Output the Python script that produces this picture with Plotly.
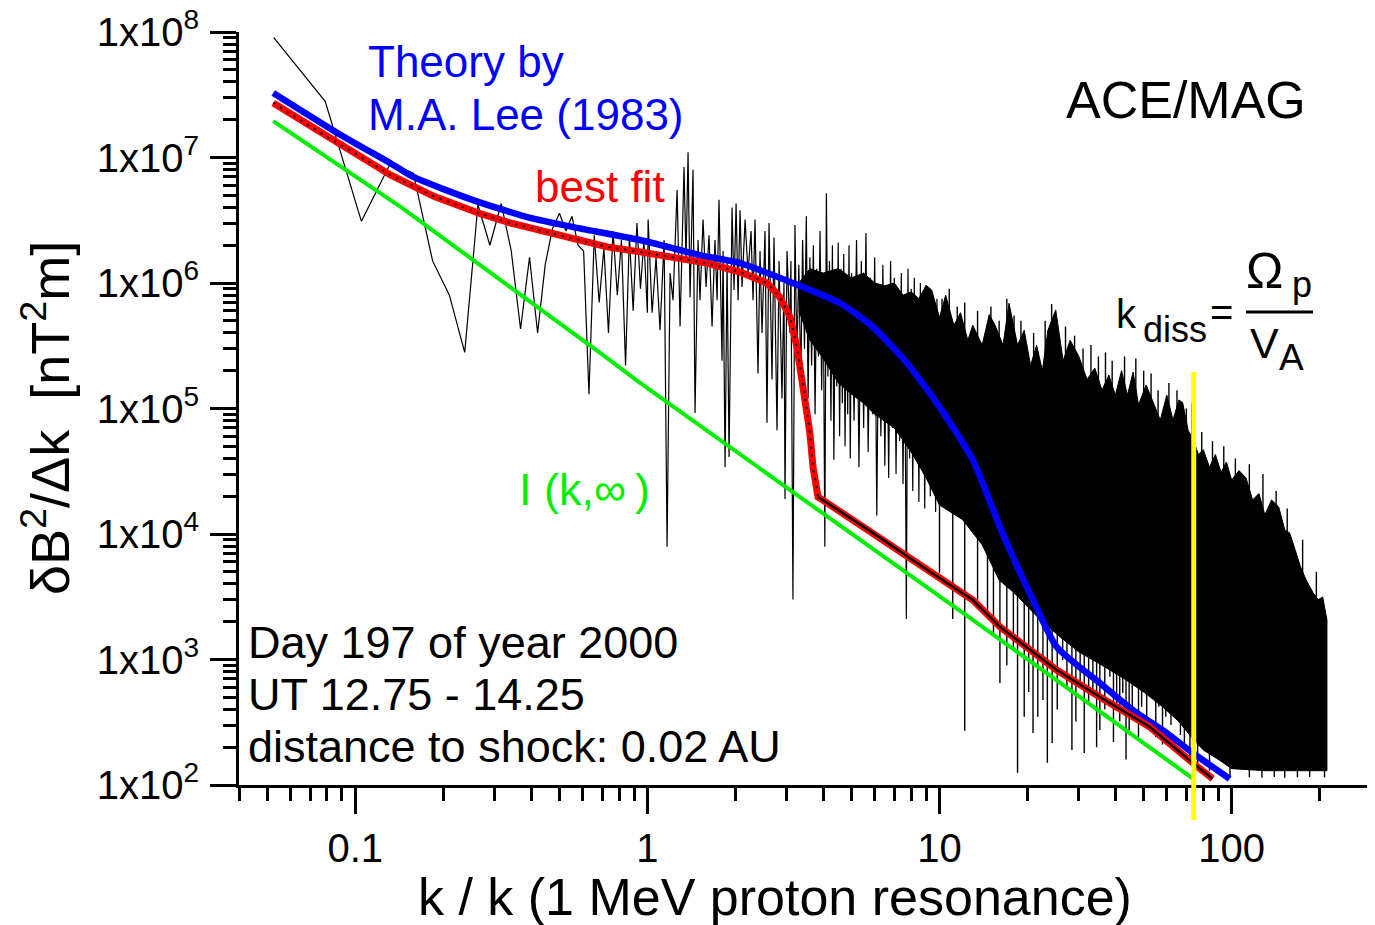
import math
import plotly.graph_objects as go

# ---------------- data ----------------
# measured spectrum, individual low-k points
spec_k_low = [0.0526, 0.0789, 0.105, 0.132, 0.158, 0.184, 0.210, 0.237, 0.263, 0.289,
              0.316, 0.342, 0.368, 0.395, 0.421, 0.447, 0.473, 0.500, 0.526, 0.552,
              0.579, 0.605, 0.631, 0.658, 0.684, 0.710, 0.736, 0.763, 0.789, 0.815,
              0.842, 0.868, 0.894, 0.921, 0.947, 0.973, 1.000]
spec_v_low = [9.0e7, 2.8e7, 3.1e6, 9.0e6, 7.5e6, 1.5e6, 8.0e5, 2.8e5, 4.2e6, 2.0e6,
              4.3e6, 1.8e6, 4.3e5, 1.6e6, 4.0e5, 1.4e6, 2.7e6, 3.6e6, 2.6e6, 3.4e6,
              2.0e6, 1.8e6, 1.3e5, 2.4e6, 7.0e5, 1.9e6, 4.0e5, 2.6e6, 8.0e5, 2.2e6,
              2.2e5, 2.4e6, 6.0e5, 3.0e6, 9.0e5, 2.2e6, 5.8e5]
# measured spectrum, 1 < k < 3 (peaks and troughs)
spec_k_mid = [1.006, 1.038, 1.071, 1.105, 1.141, 1.168, 1.196, 1.224, 1.264, 1.294,
              1.335, 1.356, 1.378, 1.400, 1.433, 1.456, 1.491, 1.514, 1.551, 1.588,
              1.626, 1.665, 1.704, 1.732, 1.759, 1.801, 1.816, 1.845, 1.874, 1.904,
              1.949, 1.980, 2.012, 2.044, 2.076, 2.109, 2.160, 2.211, 2.264, 2.300,
              2.336, 2.392, 2.430, 2.469, 2.528, 2.567, 2.609, 2.671, 2.713, 2.778,
              2.823, 2.889, 2.935, 2.959, 3.006, 3.077]
spec_v_mid = [3.2e6, 5.8e5, 1.6e6, 4.2e5, 2.2e6, 7.9e3, 1.2e6, 7.3e5, 5.5e6, 4.5e5,
              8.4e6, 1.5e6, 1.1e7, 7.7e5, 8.0e6, 9.2e4, 2.2e6, 7.3e5, 3.2e6, 9.3e5,
              2.4e6, 4.5e5, 2.2e6, 7.3e5, 4.6e6, 2.4e5, 1.8e6, 3.4e4, 1.5e6, 4.1e4,
              4.0e6, 8.8e5, 4.3e6, 7.3e5, 3.8e6, 9.3e5, 3.2e6, 1.2e6, 2.6e6, 7.3e5,
              3.2e6, 1.9e5, 1.8e6, 4.0e5, 2.6e6, 7.7e4, 3.0e6, 1.7e5, 2.3e6, 6.7e4,
              1.5e6, 1.2e5, 1.0e6, 1.9e4, 1.8e6, 4.0e5]
# measured spectrum, 3 < k < 10 (peaks and troughs)
spec_k_hi = [3.10, 3.15, 3.20, 3.25, 3.30, 3.35, 3.40, 3.45, 3.50, 3.55,
             3.60, 3.65, 3.70, 3.75, 3.80, 3.85, 3.90, 3.95, 4.00, 4.05,
             4.10, 4.15, 4.20, 4.25, 4.30, 4.35, 4.40, 4.45, 4.50, 4.55,
             4.60, 4.65, 4.70, 4.75, 4.80, 4.85, 4.90, 4.95, 5.00, 5.1,
             5.2, 5.3, 5.4, 5.5, 5.6, 5.7, 5.8, 5.9, 6.0, 6.1,
             6.2, 6.3, 6.4, 6.5, 6.6, 6.7, 6.8, 6.9, 7.0, 7.1,
             7.2, 7.3, 7.4, 7.5, 7.6, 7.7, 7.8, 7.9, 8.0, 8.1,
             8.2, 8.3, 8.4, 8.5, 8.6, 8.7, 8.8, 8.9, 9.0, 9.1,
             9.2, 9.3, 9.4, 9.5, 9.6, 9.7, 9.8, 9.9, 10.0]
spec_v_hi = [1.5e6, 3.0e3, 2.9e6, 2.5e5, 1.4e6, 1.6e5, 2.2e6, 3.0e5, 3.4e6, 1.2e5,
             1.6e6, 2.2e5, 2.0e6, 9.0e4, 1.3e6, 2.6e5, 2.6e6, 1.4e5, 1.2e6, 7.9e3,
             5.2e6, 1.8e5, 1.5e6, 8.0e4, 2.0e6, 3.9e4, 1.1e6, 1.5e5, 2.1e6, 6.0e4,
             1.3e6, 1.1e5, 1.7e6, 5.0e4, 1.0e6, 9.0e4, 2.0e6, 4.0e4, 1.2e6, 8.0e4,
             2.2e6, 3.4e4, 1.5e6, 7.0e4, 2.5e6, 4.5e4, 1.1e6, 9.0e4, 1.6e6, 1.4e4,
             9.0e5, 6.0e4, 1.4e6, 3.5e4, 8.0e5, 2.8e4, 1.5e6, 7.0e4, 1.1e6, 3.0e4,
             9.0e5, 5.5e4, 1.2e6, 2.5e4, 7.0e5, 2.1e3, 1.3e6, 4.0e4, 9.0e5, 2.2e4,
             1.1e6, 4.5e4, 7.0e5, 1.8e4, 1.0e6, 3.5e4, 6.5e5, 1.6e4, 9.5e5, 3.0e4,
             7.5e5, 2.0e4, 8.5e5, 4.0e4, 6.0e5, 1.5e4, 7.5e5, 2.5e4, 5.3e5]
# dense part of the spectrum (k > 3.3): upper edge and lower edge of the solid core
band_k_top = [3.3, 3.6, 4.0, 4.5, 5.0, 5.5, 6.0, 6.5, 7.0, 7.5, 8.0, 8.5,
              9.0, 9.4, 10.0, 10.5, 11.2, 11.8, 12.5,
              13.0, 14.0, 14.8, 15.5, 16.5, 17.3, 18.5, 19.5, 20.5, 21.5,
              22.5, 23.5, 25.0, 26.5, 28.0, 30.0, 32, 34, 36, 38,
              40, 42, 44, 46, 48, 51, 54, 57, 60, 63,
              66, 68, 71, 74, 77, 80, 84, 88, 92, 96,
              100, 106, 112, 118, 124, 130, 137, 145, 152, 158,
              165, 172, 180, 190, 198, 205, 212]
band_v_top = [1.0e6, 1.3e6, 1.2e6, 1.3e6, 1.1e6, 1.2e6, 1.0e6, 9.5e5, 1.0e6, 8.0e5, 8.5e5, 7.5e5,
              9.6e5, 8.8e5, 5.3e5, 8.0e5, 4.6e5, 5.8e5, 3.5e5,
              4.6e5, 3.2e5, 5.6e5, 4.6e5, 3.2e5, 6.9e5, 3.2e5, 4.2e5, 2.2e5, 3.2e5,
              2.0e5, 4.2e5, 6.1e5, 2.4e5, 3.5e5, 2.6e5, 1.7e5, 2.1e5, 1.4e5, 1.85e5,
              1.28e5, 2.0e5, 1.28e5, 1.95e5, 1.07e5, 1.54e5, 1.11e5, 8.1e4, 1.28e5, 8.1e4,
              1.17e5, 1.11e5, 6.7e4, 5.6e4, 4.3e4, 4.7e4, 3.4e4, 4.3e4, 3.1e4, 3.75e4,
              2.7e4, 3.2e4, 2.8e4, 1.87e4, 2.1e4, 1.42e4, 1.87e4, 1.64e4, 1.08e4, 1.02e4,
              7.5e3, 5.5e3, 4.3e3, 3.4e3, 3.0e3, 3.15e3, 2.07e3]
band_k_bot = [3.3, 3.6, 4.0, 4.5, 5.0, 5.5, 6.0, 7.0, 8.0, 9.0, 10, 12, 14, 16, 18, 22,
              26, 30, 36, 43, 50, 58, 66, 74, 80, 90, 100, 130, 170, 212]
band_v_bot = [6.0e5, 3.5e5, 2.5e5, 1.6e5, 1.3e5, 1.1e5, 9.0e4, 7.0e4, 4.5e4, 2.8e4,
              1.7e4, 1.3e4, 8.2e3, 4.3e3, 3.4e3, 2.1e3, 1.5e3, 1.15e3, 9.0e2,
              7.0e2, 5.5e2, 4.2e2, 3.2e2, 2.3e2, 1.9e2, 1.6e2, 1.35e2, 1.3e2, 1.3e2, 1.3e2]
# deep minima reaching below the solid core
spike_k = [10.0, 11.1, 12.2, 13.5, 14.6, 15.3, 16.1, 17.0, 17.9, 18.5,
           19.5, 20.2, 20.9, 21.7, 22.6, 23.4, 24.3, 25.3, 26.4, 27.3,
           28.4, 29.3, 30.3, 31.3, 32.4, 33.5, 34.5, 35.4, 36.8, 38.3,
           39.4, 40.4, 41.4, 42.4, 43.5, 44.6, 45.7, 46.9, 48.0, 49.2,
           51.2, 53.3, 55.0, 56.3, 58.0, 59.5, 62.0, 64.6, 66.8, 68.9,
           72.0, 76.5, 79.7, 84.0, 90.9, 98.7, 115, 127, 140, 152,
           168, 185, 208]
spike_top = [3e4, 2.5e4, 2e4, 1.5e4, 1.2e4, 1.0e4, 8e3, 7e3, 6e3, 6e3,
             5e3, 5e3, 4e3, 4e3, 4e3, 4e3, 3.5e3, 3.5e3, 3e3, 3e3,
             3e3, 3e3, 2.5e3, 2.5e3, 2.5e3, 2.2e3, 2.2e3, 2e3, 2e3, 2e3,
             2e3, 1.8e3, 1.8e3, 1.6e3, 1.6e3, 1.5e3, 1.5e3, 1.4e3, 1.4e3, 1.3e3,
             1.3e3, 1.2e3, 1.2e3, 1.1e3, 1.1e3, 1.0e3, 1.0e3, 9e2, 9e2, 8e2,
             7e2, 6e2, 5e2, 4e2, 3e2, 2.5e2, 2e2, 2e2, 2e2, 2e2,
             2e2, 2e2, 2e2]
spike_bot = [4.9e3, 2.1e3, 2.7e2, 3.0e3, 2.35e3, 1.6e3, 6.5e2, 9.0e2, 1.19e3, 1.25e2,
             3.5e2, 5.5e2, 2.6e2, 3.5e2, 4.75e2, 1.5e2, 2.16e2, 4.0e2, 9.9e2, 6.0e2,
             1.9e2, 3.2e2, 6.5e2, 1.8e2, 4.5e2, 5.4e2, 2.0e2, 2.74e2, 4.0e2, 7.3e2,
             2.2e2, 4.2e2, 3.2e2, 5.4e2, 1.6e2, 2.74e2, 3.6e2, 6.5e2, 2.3e2, 4.2e2,
             2.9e2, 7.3e2, 2.4e2, 4.2e2, 2.1e2, 3.5e2, 3.0e2, 4.75e2, 2.5e2, 1.9e2,
             1.6e2, 1.5e2, 2.74e2, 1.3e2, 2.0e2, 1.14e2, 1.15e2, 1.14e2, 1.16e2, 1.14e2,
             1.15e2, 1.16e2, 1.15e2]
# isolated maxima sticking out above the solid core
hair_k = [10.2, 10.8, 11.5, 12.2, 13.5, 15.0, 16.0, 17.0, 18.0, 19.0,
          21.0, 23.0, 24.2, 27.0, 29.0, 31.0, 33.0, 35.0, 37.0, 39.0,
          43.0, 47.0, 50.0, 53.0, 56.0, 61.0, 65.0, 70.0, 73.0, 79.0,
          86.0, 94.0, 103, 115, 128, 142, 155, 175, 195]
hair_tip = [7.5e5, 9.0e5, 6.5e5, 7.0e5, 6.0e5, 6.5e5, 5.0e5, 7.5e5, 5.5e5, 5.0e5,
            4.0e5, 5.0e5, 6.8e5, 4.5e5, 3.8e5, 3.0e5, 3.2e5, 2.6e5, 2.8e5, 2.4e5,
            2.6e5, 2.5e5, 2.0e5, 1.9e5, 1.4e5, 1.6e5, 1.4e5, 1.0e5, 1.1e5, 6.5e4,
            5.5e4, 5.0e4, 4.0e4, 3.6e4, 3.0e4, 2.2e4, 1.6e4, 9.0e3, 5.0e3]
hair_base = [2e5, 2e5, 2e5, 1.5e5, 1.2e5, 1.2e5, 1e5, 1e5, 8e4, 8e4,
             6e4, 6e4, 6e4, 5e4, 5e4, 4e4, 4e4, 3e4, 3e4, 3e4,
             2e4, 2e4, 2e4, 2e4, 2e4, 1.5e4, 1.5e4, 1.5e4, 1.5e4, 1e4,
             1e4, 8e3, 6e3, 6e3, 5e3, 4e3, 3e3, 2e3, 1.5e3]

# theory by M.A. Lee (1983)
theory_k = [0.0524, 0.0889, 0.132, 0.158, 0.253, 0.397, 0.557, 0.944, 1.51, 2.08,
            3.08, 4.56, 5.92, 7.73, 10.0, 13.0, 16.1, 17.4, 20.9, 25.2,
            35.4, 45.9, 60.0, 73.6, 98.5]
theory_v = [3.27e7, 1.52e7, 9.0e6, 7.0e6, 4.58e6, 3.30e6, 2.79e6, 2.20e6, 1.67e6, 1.44e6,
            1.02e6, 6.93e5, 4.46e5, 2.31e5, 1.03e5, 3.89e4, 1.14e4, 7.46e3, 2.98e3, 1.26e3,
            6.5e2, 3.96e2, 2.59e2, 1.80e2, 1.12e2]
# best fit
fit_k = [0.0524, 0.0802, 0.106, 0.132, 0.185, 0.264, 0.339, 0.465, 0.728, 0.944,
         1.60, 2.08, 2.57, 2.84, 3.08, 3.25, 3.41, 3.60, 3.69, 3.84,
         4.12, 5.92, 8.77, 13.0, 16.1, 25.2, 35.4, 52.5, 73.6, 86.1]
fit_v = [2.72e7, 1.46e7, 9.9e6, 7.26e6, 4.93e6, 3.61e6, 3.01e6, 2.50e6, 1.94e6, 1.77e6,
         1.44e6, 1.22e6, 1.0e6, 7.73e5, 5.36e5, 3.09e5, 1.60e5, 6.38e4, 3.42e4, 1.97e4,
         1.77e4, 1.02e4, 5.46e3, 2.98e3, 1.82e3, 8.24e2, 5.02e2, 2.90e2, 1.50e2, 1.12e2]
fit_knee = 19  # index where the dotted centre line becomes solid
# I(k, infinity)
ikinf_k = [0.0524, 0.143, 0.689, 0.944, 3.33, 5.78, 13.0, 73.9]
ikinf_v = [1.95e7, 4.04e6, 2.77e5, 1.60e5, 1.97e4, 7.9e3, 2.07e3, 1.12e2]

k_diss = 74.2

x_tickvals = [0.1, 1, 10, 100]
x_ticktext = ["0.1", "1", "10", "100"]
y_tickvals = [1e2, 1e3, 1e4, 1e5, 1e6, 1e7, 1e8]
y_ticktext = ["1x10<sup>%d</sup>" % e for e in range(2, 9)]

# ---------------- figure ----------------
OFF = 8                      # page margin of the html body
W, H = 1375 - OFF, 925 - OFF
ML, MR, MT, MB = 239 - OFF, 4, 32 - OFF, 140
PW, PH = W - ML - MR, H - MT - MB
FONT = "Liberation Sans, Arial, sans-serif"


def px(xp):
    return (xp - OFF - ML) / PW


def py(yp):
    return (H - MB - (yp - OFF)) / PH


def segments(ks, a, b):
    xs, ys = [], []
    for k, t, u in zip(ks, a, b):
        xs += [k, k, None]
        ys += [t, u, None]
    return xs, ys


fig = go.Figure()

band_x = band_k_top + band_k_bot[::-1]
band_y = band_v_top + band_v_bot[::-1]
fig.add_trace(go.Scatter(x=band_x, y=band_y, mode="lines", fill="toself",
                         fillcolor="black", line=dict(color="black", width=1),
                         showlegend=False))

spec_k = spec_k_low + spec_k_mid + spec_k_hi
spec_v = spec_v_low + spec_v_mid + spec_v_hi
fig.add_trace(go.Scatter(x=spec_k, y=spec_v, mode="lines",
                         line=dict(color="black", width=1.2), showlegend=False))

sx, sy = segments(spike_k, spike_top, spike_bot)
fig.add_trace(go.Scatter(x=sx, y=sy, mode="lines",
                         line=dict(color="black", width=1.4), showlegend=False))
hx, hy = segments(hair_k, hair_base, hair_tip)
fig.add_trace(go.Scatter(x=hx, y=hy, mode="lines",
                         line=dict(color="black", width=1.4), showlegend=False))

fig.add_trace(go.Scatter(x=ikinf_k, y=ikinf_v, mode="lines",
                         line=dict(color="#00ee00", width=4), showlegend=False))
fig.add_trace(go.Scatter(x=theory_k, y=theory_v, mode="lines", line_shape="spline",
                         line=dict(color="#0000ff", width=6.5, smoothing=0.6),
                         showlegend=False))
fig.add_trace(go.Scatter(x=fit_k, y=fit_v, mode="lines",
                         line=dict(color="#ff0000", width=7), showlegend=False))
fig.add_trace(go.Scatter(x=fit_k[:fit_knee + 1], y=fit_v[:fit_knee + 1], mode="lines",
                         line=dict(color="black", width=2, dash="2px,6px"), showlegend=False))
fig.add_trace(go.Scatter(x=fit_k[fit_knee:], y=fit_v[fit_knee:], mode="lines",
                         line=dict(color="black", width=2.5), showlegend=False))


def xminor():
    vals = []
    for e in range(-2, 3):
        for d in range(2, 10):
            v = d * 10 ** e
            if 0.04 <= v <= 300:
                vals.append(v)
    return vals


def yminor():
    return [d * 10 ** e for e in range(2, 8) for d in range(2, 10)]


axis_common = dict(type="log", showline=True, linecolor="black", linewidth=3,
                   ticks="outside", ticklen=26, tickwidth=3, tickcolor="black",
                   showgrid=False, zeroline=False, mirror=False,
                   tickfont=dict(family=FONT, size=40, color="black"),
                   tickmode="array", ticklabeloverflow="allow")

fig.update_xaxes(range=[math.log10(0.04), math.log10(300)],
                 tickvals=x_tickvals, ticktext=x_ticktext,
                 minor=dict(tickmode="array", tickvals=xminor(), ticks="outside",
                            ticklen=13, tickwidth=3, tickcolor="black", showgrid=False),
                 ticklabelstandoff=0, **axis_common)
fig.update_yaxes(range=[2, 8],
                 tickvals=y_tickvals, ticktext=y_ticktext,
                 minor=dict(tickmode="array", tickvals=yminor(), ticks="outside",
                            ticklen=13, tickwidth=3, tickcolor="black", showgrid=False),
                 ticklabelstandoff=3, **axis_common)


def label(text, left, baseline, size, color="black"):
    fig.add_annotation(text=text, xref="paper", yref="paper",
                       x=px(left - 4), y=py(baseline - 0.3465 * size),
                       xanchor="left", yanchor="middle", showarrow=False,
                       font=dict(family=FONT, size=size, color=color))


label("Theory by", 370, 77, 44, "#0000ff")
label("M.A. Lee (1983)", 370, 130, 44, "#0000ff")
label("best fit", 537, 202, 44, "#ff0000")
label("ACE/MAG", 1068, 118, 52)
label("I (k,\u221e\u2009)", 521, 505, 45, "#00ee00")
label("Day 197 of year 2000", 250, 658, 45)
label("UT 12.75 - 14.25", 250, 710, 45)
label("distance to shock: 0.02 AU", 250, 762, 45)
label("k / k (1 MeV proton resonance)", 420, 915, 52)

# k_diss = Omega_p / V_A
label("k", 1118, 328, 40)
label("diss", 1145, 342, 36)
label("=", 1212, 326, 40)
label("\u03a9", 1248, 288, 50)
label("p", 1294, 297, 36)
label("V", 1252, 358, 43)
label("A", 1281, 370, 37)
fig.add_shape(type="line", xref="paper", yref="paper", x0=px(1246), x1=px(1313),
              y0=py(312), y1=py(312), line=dict(color="black", width=3))

fig.add_annotation(text="\u03b4B<sup>2</sup>/\u0394k\u00a0\u00a0[nT<sup>2</sup>m]",
                   xref="paper", yref="paper", x=px(46), y=py(418), textangle=-90,
                   xanchor="center", yanchor="middle", showarrow=False,
                   font=dict(family=FONT, size=54, color="black"))

fig.add_shape(type="line", xref="x", yref="paper", x0=k_diss, x1=k_diss,
              y0=py(820), y1=py(372), line=dict(color="#ffff00", width=5), layer="above")

fig.update_layout(width=W, height=H, margin=dict(l=ML, r=MR, t=MT, b=MB, autoexpand=False),
                  paper_bgcolor="white", plot_bgcolor="white", showlegend=False)

fig.write_html("out.html")
